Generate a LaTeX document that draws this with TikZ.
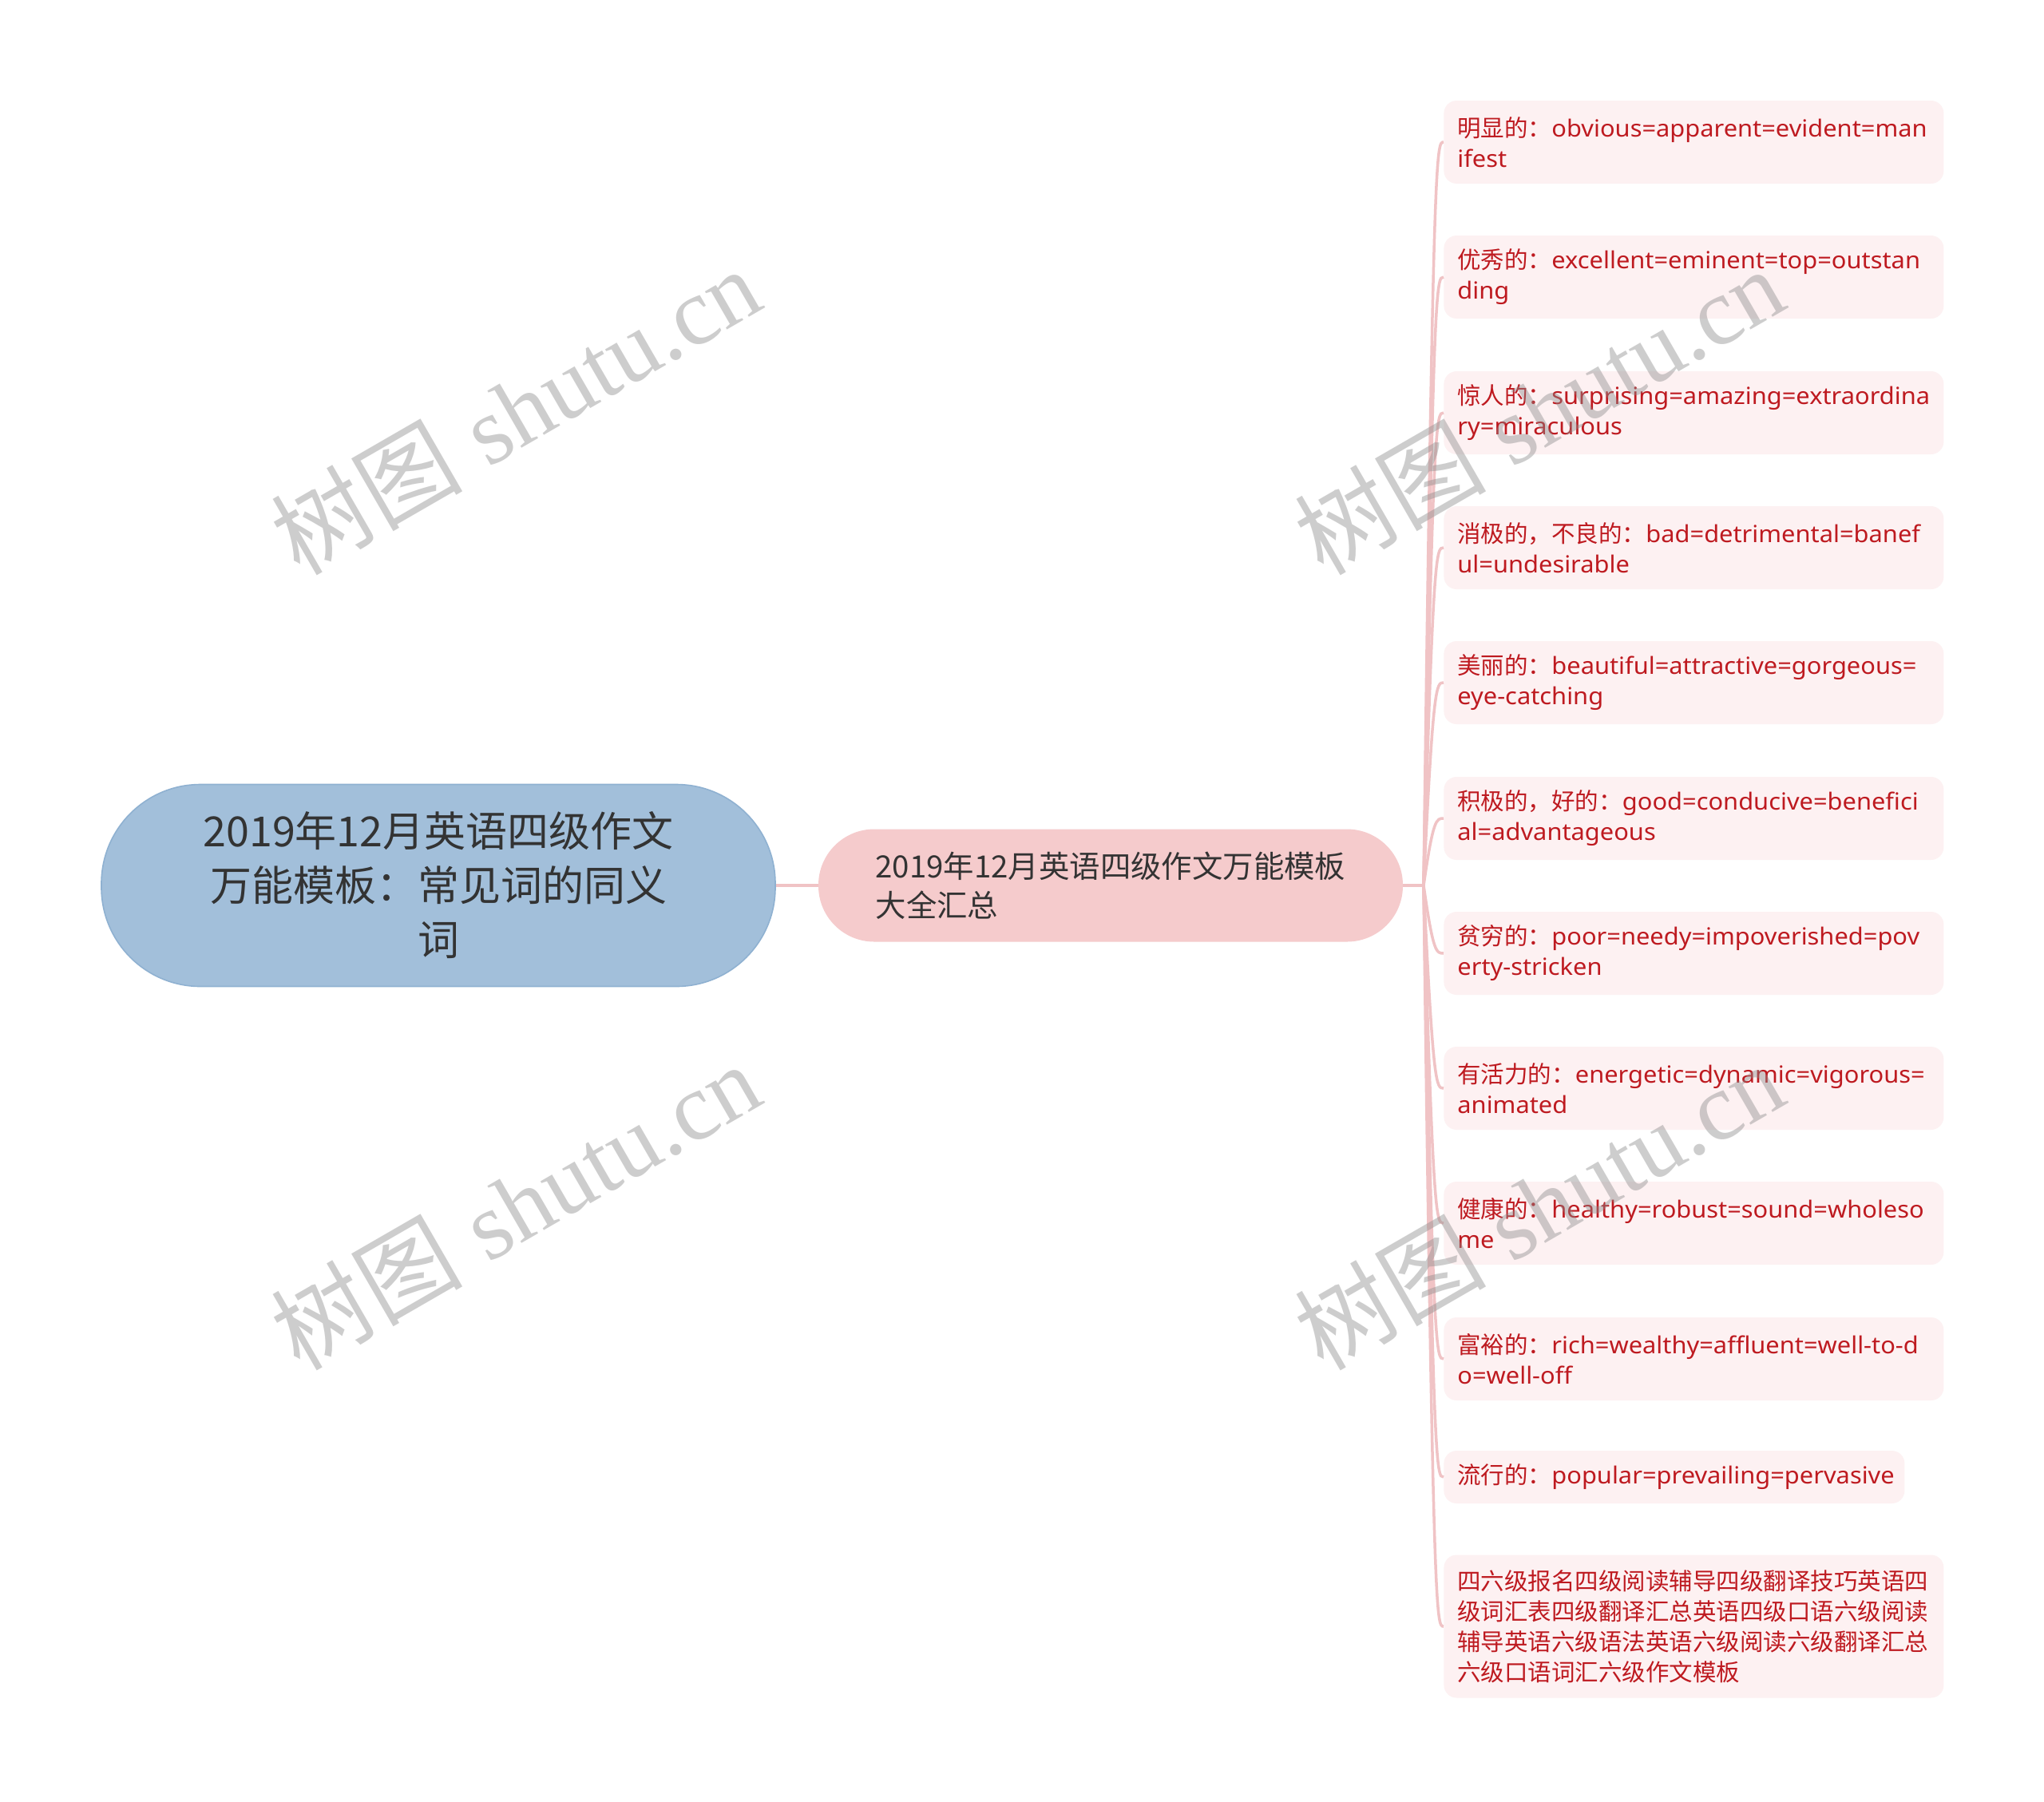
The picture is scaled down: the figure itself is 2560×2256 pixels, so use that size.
\documentclass[tikz,border=0pt]{standalone}
\usepackage{fontspec}
\setmainfont{Noto Sans}[FakeStretch=1.045]
\newfontfamily\cjk{Noto Sans CJK SC}
\newfontfamily\wmserif{Liberation Serif}
\usetikzlibrary{calc}
\definecolor{rootfill}{HTML}{A2BFDA}
\definecolor{rootdraw}{HTML}{8FB1D1}
\definecolor{midfill}{HTML}{F5CBCC}
\definecolor{leaffill}{HTML}{FDF1F2}
\definecolor{leaftext}{HTML}{BE1A20}
\definecolor{linkcol}{HTML}{F0C3C5}
\definecolor{darktext}{HTML}{333333}
\definecolor{wmcol}{HTML}{8A8A8A}
\tikzset{
  rootbox/.style={rectangle, rounded corners=62pt, fill=rootfill, draw=rootdraw, line width=0.8pt,
    minimum width=422pt, minimum height=126.5pt, align=center, text=darktext,
    font=\cjk\fontsize{26pt}{34pt}\selectfont, inner sep=0pt},
  midbox/.style={rectangle, rounded corners=35pt, fill=midfill, minimum width=366pt,
    minimum height=70.5pt, align=left, text=darktext,
    font=\cjk\fontsize{19.2pt}{24.5pt}\selectfont, inner sep=0pt},
  leafbox/.style={rectangle, rounded corners=8pt, fill=leaffill, text width=296pt,
    inner xsep=8.5pt, inner ysep=0pt, minimum height=52pt, align=left, text=leaftext,
    font=\fontsize{14.75pt}{19pt}\selectfont, anchor=west},
  link/.style={draw=linkcol, line width=1.75pt},
  watermark/.style={rotate=30, text=wmcol, text opacity=0.42, inner sep=0pt,
    font=\fontsize{60pt}{60pt}\selectfont}
}
\begin{document}
\begin{tikzpicture}[x=0.5pt, y=-0.5pt]
\useasboundingbox[fill=white] (0,0) rectangle (2560,2256);

\node[rootbox] (root) at (549,1109) {2019年12月英语四级作文\\万能模板：常见词的同义\\词};
\node[midbox] (mid) at (1391,1109) {2019年12月英语四级作文万能模板\\大全汇总};
\coordinate (hub) at (1783,1109);

\node[leafbox] (l1) at (1808,178) {{\cjk 明显的：}obvious=apparent=evident=man\\ifest};
\node[leafbox] (l2) at (1808,347) {{\cjk 优秀的：}excellent=eminent=top=outstan\\ding};
\node[leafbox] (l3) at (1808,517) {{\cjk 惊人的：}surprising=amazing=extraordina\\ry=miraculous};
\node[leafbox] (l4) at (1808,686) {{\cjk 消极的，不良的：}bad=detrimental=banef\\ul=undesirable};
\node[leafbox] (l5) at (1808,855) {{\cjk 美丽的：}beautiful=attractive=gorgeous=\\eye-catching};
\node[leafbox] (l6) at (1808,1025) {{\cjk 积极的，好的：}good=conducive=benefici\\al=advantageous};
\node[leafbox] (l7) at (1808,1194) {{\cjk 贫穷的：}poor=needy=impoverished=pov\\erty-stricken};
\node[leafbox] (l8) at (1808,1363) {{\cjk 有活力的：}energetic=dynamic=vigorous=\\animated};
\node[leafbox] (l9) at (1808,1532) {{\cjk 健康的：}healthy=robust=sound=wholeso\\me};
\node[leafbox] (l10) at (1808,1702) {{\cjk 富裕的：}rich=wealthy=affluent=well-to-d\\o=well-off};
\node[leafbox, text width=271.5pt, minimum height=33pt] (l11) at (1808,1850) {{\cjk 流行的：}popular=prevailing=pervasive};
\node[leafbox, minimum height=89.5pt, font=\cjk\fontsize{14.75pt}{19pt}\selectfont] (l12) at (1808,2037) {四六级报名四级阅读辅导四级翻译技巧英语四\\级词汇表四级翻译汇总英语四级口语六级阅读\\辅导英语六级语法英语六级阅读六级翻译汇总\\六级口语词汇六级作文模板};

\draw[link] (root.east) -- (mid.west);
\draw[link] (mid.east) -- (hub);
\foreach \n in {l1,l2,l3,l4,l5,l6,l7,l8,l9,l10,l11,l12}{
  \draw[link] (hub) .. controls ($(hub |- \n.west)+(6pt,0)$) and ($(hub |- \n.west)+(8pt,0)$) .. (\n.west);
}

\node[watermark] (wm1) at (645,514) {{\cjk 树图} {\wmserif shutu.cn}};
\node[watermark] (wm2) at (645,1510) {{\cjk 树图} {\wmserif shutu.cn}};
\node[watermark] (wm3) at (1927,514) {{\cjk 树图} {\wmserif shutu.cn}};
\node[watermark] (wm4) at (1927,1510) {{\cjk 树图} {\wmserif shutu.cn}};
\end{tikzpicture}
\end{document}
